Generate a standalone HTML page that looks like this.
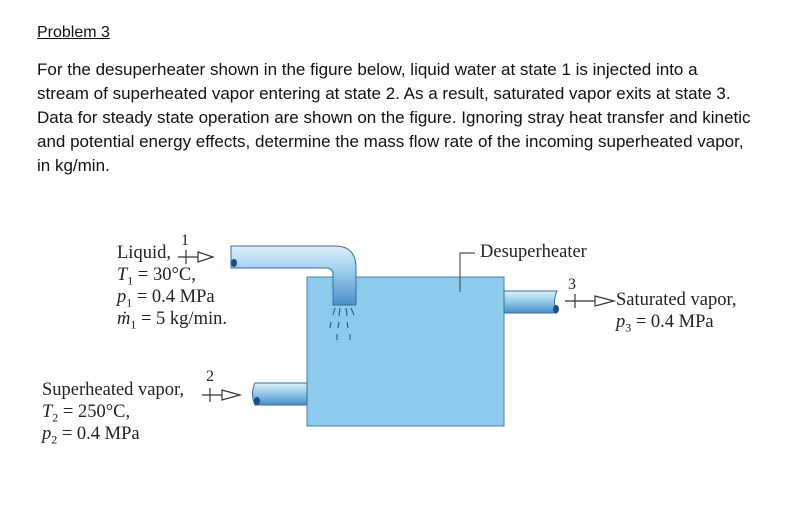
<!DOCTYPE html>
<html><head><style>
body{margin:0;background:#fff;width:800px;height:521px;position:relative;overflow:hidden;font-family:"Liberation Sans",sans-serif;}
.t{position:absolute;left:37px;font-size:17px;color:#111;white-space:nowrap;}
.s{position:absolute;font-family:"Liberation Serif",serif;font-size:18.5px;color:#222;white-space:nowrap;line-height:21px;}
</style></head><body>
<div class="t" style="top:24px;text-decoration:underline;font-size:16px">Problem 3</div>
<div class="t" style="top:60px">For the desuperheater shown in the figure below, liquid water at state 1 is injected into a</div>
<div class="t" style="top:84px">stream of superheated vapor entering at state 2. As a result, saturated vapor exits at state 3.</div>
<div class="t" style="top:108px">Data for steady state operation are shown on the figure. Ignoring stray heat transfer and kinetic</div>
<div class="t" style="top:132px">and potential energy effects, determine the mass flow rate of the incoming superheated vapor,</div>
<div class="t" style="top:156px">in kg/min.</div>

<svg width="800" height="521" style="position:absolute;left:0;top:0">
<defs>
<linearGradient id="p" x1="0" y1="0" x2="0" y2="1"><stop offset="0" stop-color="#dff0fb"/><stop offset="0.4" stop-color="#9fd0ee"/><stop offset="1" stop-color="#4a8fc8"/></linearGradient>
</defs>
<rect x="307" y="277" width="197" height="149" fill="#8ccbec" stroke="#4d7fa6" stroke-width="1"/>
<path d="M231 246 H335 Q356 246 356 268 V305 H333 V275 Q333 268 326 268 H231 Z" fill="url(#p)" stroke="#3a6e9a" stroke-width="1"/>
<ellipse cx="234" cy="263" rx="3" ry="4" fill="#1e4d86"/>
<g stroke="#2b5f9a" stroke-width="1.2">
<line x1="335" y1="308" x2="333" y2="315"/><line x1="340" y1="308" x2="339" y2="316"/><line x1="346" y1="308" x2="347" y2="316"/><line x1="351" y1="308" x2="354" y2="315"/>
<line x1="331" y1="322" x2="330" y2="328"/><line x1="339" y1="322" x2="338" y2="328"/><line x1="347" y1="322" x2="348" y2="328"/>
<line x1="337" y1="334" x2="337" y2="340"/><line x1="350" y1="334" x2="350" y2="340"/>
</g>
<path d="M255 383 H307 V405 H255 Q250 394 255 383 Z" fill="url(#p)" stroke="#3a6e9a"/>
<ellipse cx="257" cy="401" rx="3" ry="4" fill="#1e4d86"/>
<path d="M504 291 H557 Q552 302 557 313 H504 Z" fill="url(#p)" stroke="#3a6e9a"/>
<ellipse cx="556" cy="309" rx="3" ry="4" fill="#1e4d86"/>
<g stroke="#333" stroke-width="1.2" fill="#fff">
<line x1="178" y1="257" x2="198" y2="257"/><line x1="186" y1="250" x2="186" y2="264"/><path d="M198 252 L213 257 L198 262 Z"/>
<line x1="202" y1="395" x2="222" y2="395"/><line x1="210" y1="388" x2="210" y2="402"/><path d="M222 390 L240 395 L222 400 Z"/>
<line x1="565" y1="301" x2="595" y2="301"/><line x1="575" y1="294" x2="575" y2="308"/><path d="M595 296 L614 301 L595 306 Z"/>
<polyline points="460,292 460,253 475,253" fill="none" stroke="#555"/>
</g>
</svg>
<div class="s" style="left:181px;top:230px;font-size:16px">1</div>
<div class="s" style="left:117px;top:243px">Liquid,</div>
<div class="s" style="left:117px;top:265px"><i>T</i><sub style="font-size:12px">1</sub> = 30°C,</div>
<div class="s" style="left:117px;top:287px"><i>p</i><sub style="font-size:12px">1</sub> = 0.4 MPa</div>
<div class="s" style="left:117px;top:309px"><i>ṁ</i><sub style="font-size:12px">1</sub> = 5 kg/min.</div>
<div class="s" style="left:206px;top:366px;font-size:16px">2</div>
<div class="s" style="left:42px;top:380px">Superheated vapor,</div>
<div class="s" style="left:42px;top:402px"><i>T</i><sub style="font-size:12px">2</sub> = 250°C,</div>
<div class="s" style="left:42px;top:424px"><i>p</i><sub style="font-size:12px">2</sub> = 0.4 MPa</div>
<div class="s" style="left:480px;top:242px">Desuperheater</div>
<div class="s" style="left:568px;top:274px;font-size:16px">3</div>
<div class="s" style="left:616px;top:290px">Saturated vapor,</div>
<div class="s" style="left:616px;top:312px"><i>p</i><sub style="font-size:12px">3</sub> = 0.4 MPa</div>
</body></html>
